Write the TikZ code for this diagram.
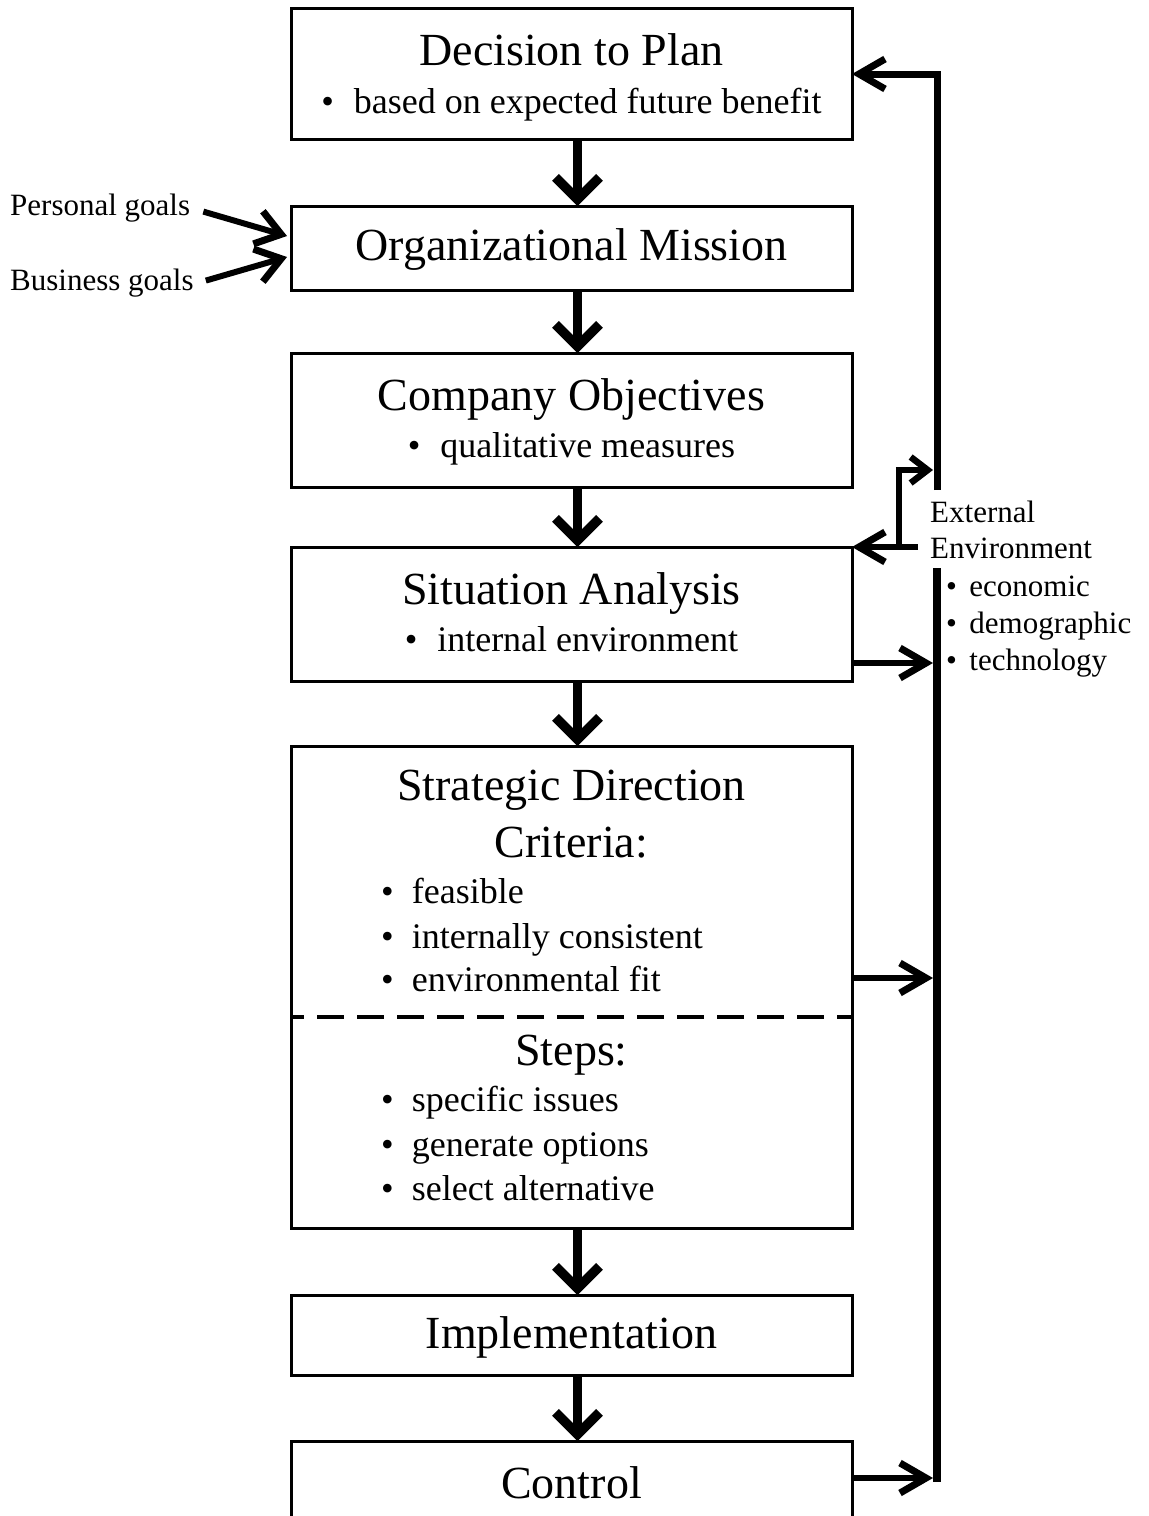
\documentclass[tikz,border=0pt]{standalone}
\usepackage{fontspec}
\setmainfont{Liberation Serif}
\usetikzlibrary{arrows.meta}
\begin{document}
\begin{tikzpicture}[x=1pt,y=-1pt,line join=miter,
  box/.style={draw, line width=3pt, minimum width=561pt, inner sep=0pt, outer sep=0pt},
  ttl/.style={anchor=base, inner sep=0pt, font=\fontsize{46}{50}\selectfont},
  txt/.style={anchor=base, inner sep=0pt, font=\fontsize{36}{40}\selectfont},
  item/.style={anchor=base west, inner sep=0pt, font=\fontsize{36}{40}\selectfont},
  lbl/.style={anchor=base west, inner sep=0pt, font=\fontsize{31}{34}\selectfont},
  flow/.style={line width=9pt, -{Straight Barb[length=22pt,width=44pt,line width=9.5pt]}},
  side/.style={line width=6.5pt, -{Straight Barb[length=26pt,width=30pt,line width=7pt]}},
  goal/.style={line width=6pt, -{Straight Barb[length=24pt,width=34pt,line width=7pt]}},
  rail/.style={line width=8pt}]
\useasboundingbox (0,0) rectangle (1149,1516);
\clip (0,0) rectangle (1149,1516);

% boxes of the planning chain
\node[box, minimum height=131pt] (b1) at (571.5,73.5) {};
\node[box, minimum height=84pt]  (b2) at (571.5,248) {};
\node[box, minimum height=134pt] (b3) at (571.5,420) {};
\node[box, minimum height=134pt] (b4) at (571.5,614) {};
\node[box, minimum height=482pt] (b5) at (571.5,987) {};
\node[box, minimum height=80pt]  (b6) at (571.5,1335) {};
\node[box, minimum height=119pt] (b7) at (571.5,1500.5) {};

% texts in the boxes
\node[ttl] (t1) at (571.5,65) {Decision to Plan};
\node[txt] (t1a) at (571.5,113) {\textbullet\hspace{0.55em}based on expected future benefit};
\node[ttl] (t2) at (571.5,260) {Organizational Mission};
\node[ttl] (t3) at (571.5,410) {Company Objectives};
\node[txt] (t3a) at (571.5,457) {\textbullet\hspace{0.55em}qualitative measures};
\node[ttl] (t4) at (571.5,604) {Situation Analysis};
\node[txt] (t4a) at (571.5,651) {\textbullet\hspace{0.55em}internal environment};
\node[ttl] (t5) at (571.5,800) {Strategic Direction};
\node[ttl] (t5b) at (571.5,857) {Criteria:};
\node[item] (c1) at (381,903) {\textbullet\hspace{0.5em}feasible};
\node[item] (c2) at (381,948) {\textbullet\hspace{0.5em}internally consistent};
\node[item] (c3) at (381,991) {\textbullet\hspace{0.5em}environmental fit};
\node[ttl] (t5c) at (571.5,1065) {Steps:};
\node[item] (s1) at (381,1111) {\textbullet\hspace{0.5em}specific issues};
\node[item] (s2) at (381,1156) {\textbullet\hspace{0.5em}generate options};
\node[item] (s3) at (381,1200) {\textbullet\hspace{0.5em}select alternative};
\node[ttl] (t6) at (571.5,1348) {Implementation};
\node[ttl] (t7) at (571.5,1498) {Control};

% divider between criteria and steps
\draw[line width=3.5pt, dash pattern=on 27pt off 13pt, dash phase=14pt]
  ([yshift=-271pt]b5.north west) -- ([yshift=-271pt]b5.north east);

% downward flow
\foreach \a/\b in {b1/b2,b2/b3,b3/b4,b4/b5,b5/b6,b6/b7}
  \draw[flow] ([xshift=6pt]\a.south) -- ([xshift=6pt]\b.north);

% inputs to the mission
\node[lbl] (pg) at (10,215) {Personal goals};
\node[lbl] (bg) at (10,290) {Business goals};
\draw[goal] ([xshift=13pt,yshift=-4pt]pg.east) -- ([xshift=-4pt,yshift=12pt]b2.west);
\draw[goal] ([xshift=12pt,yshift=2pt]bg.east) -- ([xshift=-4pt,yshift=-9pt]b2.west);

% external environment
\node[lbl] (ee1) at (930,522) {External};
\node[lbl] (ee2) at (930,558) {Environment};
\node[lbl] (e1) at (946,596) {\textbullet\hspace{0.4em}economic};
\node[lbl] (e2) at (946,633) {\textbullet\hspace{0.4em}demographic};
\node[lbl] (e3) at (946,670) {\textbullet\hspace{0.4em}technology};

% feedback rail
\coordinate (railtop) at (937,74);
\coordinate (gapA) at (937,490);
\coordinate (gapB) at (937,568);
\coordinate (railbot) at (937,1482);
\coordinate (railL) at (933,0);
\coordinate (fork) at (899,547);
\coordinate (bend) at (899,470);
\coordinate (envtail) at (918,547);

\draw[rail] (gapB) -- (railbot);
\draw[side, line width=7pt] (gapA) -- (railtop) -- (b1.east |- railtop);
\draw[line width=6.5pt] (fork) -- ([yshift=3.25pt]bend);
\draw[line width=6.5pt, -{Straight Barb[length=17pt,width=26pt,line width=6.5pt]}]
  ([xshift=-3.25pt]bend) -- (bend -| railL);
\draw[side] (envtail) -- (b4.north east);

\draw[side] ([yshift=18pt]b4.south east) -- ([yshift=18pt]b4.south east -| railL);
\draw[side] ([yshift=250pt]b5.south east) -- ([yshift=250pt]b5.south east -| railL);
\draw[side] ([yshift=-37pt]b7.north east) -- ([yshift=-37pt]b7.north east -| railL);
\end{tikzpicture}
\end{document}
